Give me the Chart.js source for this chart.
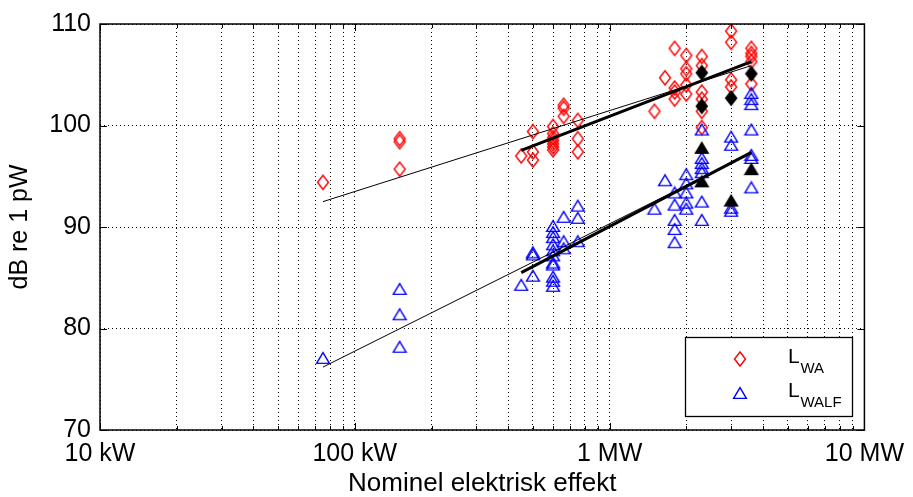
<!DOCTYPE html>
<html>
<head>
<meta charset="utf-8">
<title>Lydeffekt mod nominel elektrisk effekt</title>
<script src="https://cdn.jsdelivr.net/npm/chart.js@4.4.1/dist/chart.umd.min.js"></script>
<style>
  html, body { margin: 0; padding: 0; background: #fff; }
</style>
</head>
<body>
<canvas id="chart" width="913" height="497"></canvas>
<script>
// Rated power of the turbines (kW) and measured levels per rated power (dB re 1 pW)
const ratedKW = [75, 150, 450, 500, 600, 660, 750, 1500, 1650, 1800, 2000, 2300, 3000, 3600];
const lwaDB = [
    [94.4], [98.7, 98.4, 95.7], [97.0], [99.4, 97.4, 96.6],
    [99.9, 99.2, 98.8, 98.5, 98.2, 97.9, 97.6], [102.0, 101.7, 100.9], [100.5, 98.7, 97.4],
    [101.4], [104.7], [107.6, 103.7, 103.3, 102.6], [106.9, 105.6, 105.1, 104.0, 103.1],
    [106.8, 105.9, 103.3, 102.6, 101.4, 99.8], [109.3, 108.2, 104.5, 103.8],
    [107.6, 107.1, 106.8, 106.3, 104.1]
];
const lwalfDB = [
    [77.1], [83.9, 81.4, 78.2], [84.3], [87.5, 87.3, 85.2],
    [90.1, 89.5, 89.0, 88.3, 87.7, 87.2, 86.5, 86.3, 85.1, 84.7, 84.2], [91.0, 88.6, 87.9], [92.1, 90.9, 88.6],
    [91.8], [94.6], [93.4, 92.2, 90.7, 89.8, 88.5], [95.2, 94.3, 93.4, 92.4, 91.8],
    [99.6, 96.8, 96.3, 95.8, 95.4, 92.5, 90.7], [98.9, 98.1, 91.9, 91.6],
    [103.2, 102.6, 102.1, 99.6, 97.1, 96.8, 93.9]
];

// Highlighted (black) turbines
const markedKW = [2300, 2300, 3000, 3600];
const markedLwaDB = [105.2, 101.9, 102.7, 105.1];
const markedLwalfDB = [97.8, 94.5, 92.6, 95.7];

// Regression lines: all turbines and MW-class only
const fitAllKW = [75, 3600];
const fitMwKW = [450, 3600];
const lwaFitAll = [92.5, 105.9];
const lwaFitMw = [97.55, 106.3];
const lwalfFitAll = [76.2, 97.3];
const lwalfFitMw = [85.5, 97.35];

// Axis
const xMajorKW = [10, 100, 1000, 10000];
const xMajorLabels = ['10 kW', '100 kW', '1 MW', '10 MW'];
const legendLabels = [['L', 'WA'], ['L', 'WALF']];

const FONT = '"Liberation Sans", Arial, Helvetica, sans-serif';

function groupPoints(xs, groups) {
    const pts = [];
    xs.forEach((x, i) => groups[i].forEach(v => pts.push({x: x, y: v})));
    return pts;
}

function pairPoints(xs, ys) {
    return xs.map((x, i) => ({x: x, y: ys[i]}));
}

// minor log ticks for the dotted grid
const xGridKW = [];
for (let d = 10; d < 10000; d *= 10) {
    for (let m = 1; m < 10; m++) xGridKW.push(d * m);
}
xGridKW.push(10000);

function diamondMarker(stroke, fill) {
    const c = document.createElement('canvas');
    c.width = 14; c.height = 18;
    const g = c.getContext('2d');
    g.beginPath();
    g.moveTo(7, 2); g.lineTo(12.5, 9); g.lineTo(7, 16); g.lineTo(1.5, 9);
    g.closePath();
    if (fill) { g.fillStyle = fill; g.fill(); }
    g.strokeStyle = stroke; g.lineWidth = 1.4; g.stroke();
    return c;
}

function triangleMarker(stroke, fill) {
    const c = document.createElement('canvas');
    c.width = 16; c.height = 14;
    const g = c.getContext('2d');
    g.beginPath();
    g.moveTo(8, 1.6); g.lineTo(14.4, 12.4); g.lineTo(1.6, 12.4);
    g.closePath();
    if (fill) { g.fillStyle = fill; g.fill(); }
    g.strokeStyle = stroke; g.lineWidth = 1.4; g.stroke();
    return c;
}

const redDiamond = diamondMarker('#ff0000');
const blueTriangle = triangleMarker('#0000ff');
const blackDiamond = diamondMarker('#000', '#000');
const blackTriangle = triangleMarker('#000', '#000');

function fitLine(xs, ys, width, order) {
    return {
        data: pairPoints(xs, ys), showLine: true, borderColor: '#000', borderWidth: width,
        pointRadius: 0, fill: false, order: order
    };
}

// box, inward ticks
const framePlugin = {
    id: 'frame',
    afterDatasetsDraw(chart) {
        const {ctx, chartArea: a, scales: {x, y}} = chart;
        ctx.save();
        ctx.strokeStyle = '#000';
        ctx.lineWidth = 1;
        ctx.beginPath();
        x.ticks.forEach(t => {
            const px = Math.round(x.getPixelForValue(t.value)) + 0.5;
            const len = xMajorKW.includes(t.value) ? 7 : 4;
            ctx.moveTo(px, a.bottom); ctx.lineTo(px, a.bottom - len);
            ctx.moveTo(px, a.top); ctx.lineTo(px, a.top + len);
        });
        y.ticks.forEach(t => {
            const py = Math.round(y.getPixelForValue(t.value)) + 0.5;
            ctx.moveTo(a.left, py); ctx.lineTo(a.left + 7, py);
            ctx.moveTo(a.right, py); ctx.lineTo(a.right - 7, py);
        });
        ctx.stroke();
        ctx.lineWidth = 1.5;
        ctx.strokeRect(a.left, a.top, a.right - a.left, a.bottom - a.top);
        ctx.restore();
    }
};

// legend in the lower right corner
const legendPlugin = {
    id: 'boxLegend',
    afterDraw(chart) {
        const ctx = chart.ctx;
        const marks = [redDiamond, blueTriangle];
        ctx.save();
        ctx.fillStyle = '#fff';
        ctx.fillRect(685, 337, 168, 80);
        ctx.strokeStyle = '#000';
        ctx.lineWidth = 1.3;
        ctx.strokeRect(685.5, 337.5, 167, 79);
        ctx.fillStyle = '#000';
        ctx.textBaseline = 'alphabetic';
        legendLabels.forEach((lab, i) => {
            const cy = 359 + i * 34;
            ctx.drawImage(marks[i], 740 - marks[i].width / 2, cy - marks[i].height / 2);
            ctx.font = '21px ' + FONT;
            ctx.fillText(lab[0], 788, cy + 3.5);
            ctx.font = '15px ' + FONT;
            ctx.fillText(lab[1], 800.5, cy + 13.5);
        });
        ctx.restore();
    }
};

new Chart(document.getElementById('chart'), {
    type: 'scatter',
    data: {
        datasets: [
            fitLine(fitAllKW, lwaFitAll, 1, 0),
            fitLine(fitMwKW, lwaFitMw, 3, 0),
            fitLine(fitAllKW, lwalfFitAll, 1, 0),
            fitLine(fitMwKW, lwalfFitMw, 3, 0),
            {label: 'marked LWA', data: pairPoints(markedKW, markedLwaDB), pointStyle: blackDiamond, pointRadius: 6, order: 1},
            {label: 'marked LWALF', data: pairPoints(markedKW, markedLwalfDB), pointStyle: blackTriangle, pointRadius: 6, order: 1},
            {label: 'LWALF', data: groupPoints(ratedKW, lwalfDB), pointStyle: blueTriangle, pointRadius: 6, order: 2},
            {label: 'LWA', data: groupPoints(ratedKW, lwaDB), pointStyle: redDiamond, pointRadius: 6, order: 3}
        ]
    },
    options: {
        responsive: false,
        animation: false,
        events: [],
        layout: {padding: {left: 0, right: 46, top: 22, bottom: 0}},
        plugins: {legend: {display: false}, tooltip: {enabled: false}},
        scales: {
            x: {
                type: 'logarithmic',
                min: 10,
                max: 10000,
                afterBuildTicks: s => { s.ticks = xGridKW.map(v => ({value: v})); },
                afterFit: s => { s.height = 67; },
                ticks: {
                    autoSkip: false, maxRotation: 0, padding: 9, color: '#000',
                    font: {family: FONT, size: 25, lineHeight: 1.2},
                    callback: v => {
                        const i = xMajorKW.indexOf(v);
                        return i >= 0 ? xMajorLabels[i] : '';
                    }
                },
                grid: {color: '#000', lineWidth: 1, drawTicks: false},
                border: {display: false, dash: [1, 3]},
                title: {
                    display: true, text: 'Nominel elektrisk effekt', color: '#000',
                    font: {family: FONT, size: 26, lineHeight: 1}, padding: {top: 0, bottom: 0}
                }
            },
            y: {
                min: 70,
                max: 110,
                afterFit: s => { s.width = 100; },
                ticks: {
                    stepSize: 10, padding: 9, color: '#000',
                    font: {family: FONT, size: 25, lineHeight: 1.2}
                },
                grid: {color: '#000', lineWidth: 1, drawTicks: false},
                border: {display: false, dash: [1, 3]},
                title: {
                    display: true, text: 'dB re 1 pW', color: '#000',
                    font: {family: FONT, size: 25, lineHeight: 1}, padding: {top: 8, bottom: 0}
                }
            }
        }
    },
    plugins: [framePlugin, legendPlugin]
});
</script>
</body>
</html>
